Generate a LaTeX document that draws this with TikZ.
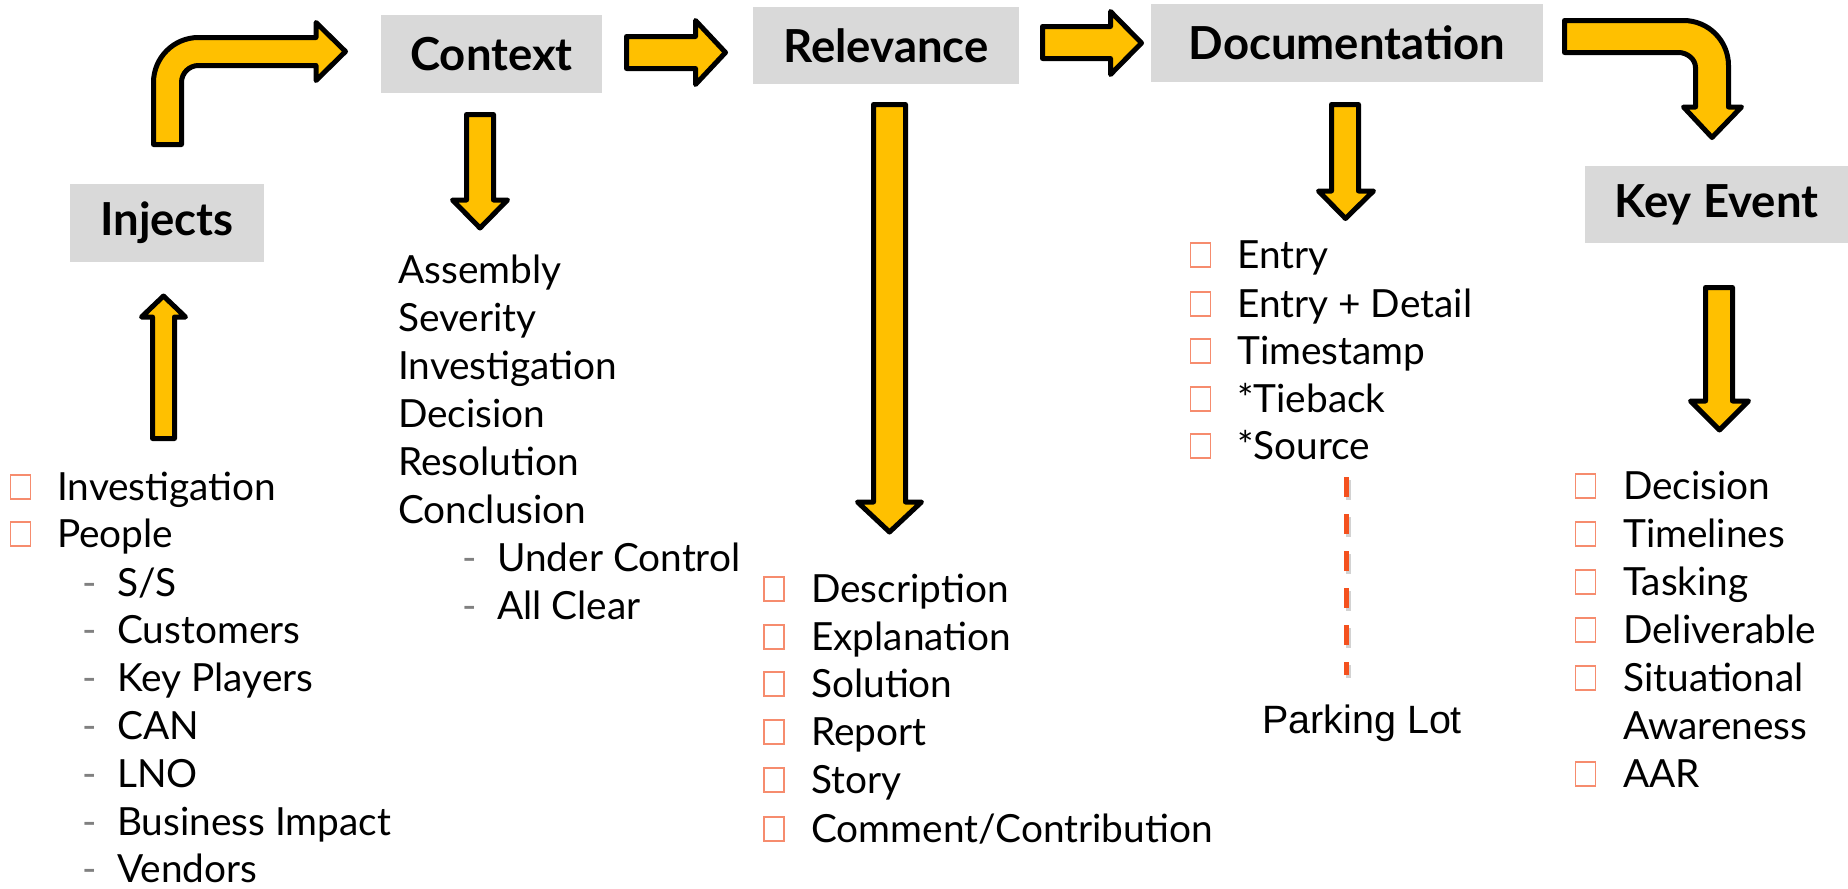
\documentclass[tikz,border=0pt]{standalone}
\usepackage{fontspec}
\setmainfont{Lato}
\newfontfamily\arialfont{Liberation Sans}
\definecolor{boxgray}{HTML}{D9D9D9}
\definecolor{arrowgold}{HTML}{FFC000}
\definecolor{bulletsalmon}{RGB}{246,140,110}
\definecolor{dashred}{RGB}{244,81,30}
\definecolor{subdash}{RGB}{128,128,128}
\newcommand\bodyfont{\fontsize{38.8}{46}\selectfont}
\newcommand\titlefont{\fontsize{45.5}{52}\selectfont\bfseries}
\tikzset{
  titlebox/.style={fill=boxgray, inner sep=0, font=\titlefont},
  blockarrow/.style={fill=arrowgold, draw=black, line width=5pt, line join=round},
  itm/.style={anchor=base west, inner sep=0, font=\bodyfont},
  subdashnode/.style={anchor=base west, inner sep=0, font=\bodyfont, text=subdash},
  sq/.style={draw=bulletsalmon, line width=1.5pt, minimum width=20pt, minimum height=24pt, inner sep=0},
}
\begin{document}
\begin{tikzpicture}[x=1pt,y=-1pt]
\useasboundingbox (0,0) rectangle (1848,889);
% title boxes
\node[titlebox, minimum width=194pt, minimum height=78pt] (injects) at (167,223) {Injects};
\node[titlebox, minimum width=221pt, minimum height=78pt] (context) at (491.5,54) {Context};
\node[titlebox, minimum width=266pt, minimum height=77pt] (relevance) at (886,45.5) {Relevance};
\node[titlebox, minimum width=392pt, minimum height=78pt] (documentation) at (1347,43) {Documentation};
\node[titlebox, minimum width=263pt, minimum height=77pt] (keyevent) at (1716.5,204.5) {Key Event};

% block arrows
% Injects up
\draw[blockarrow] (152.5,438.5) -- (152.5,317) -- (141.5,317) -- (163.5,296) -- (185.5,317) -- (174.5,317) -- (174.5,438.5) -- cycle;
% bent arrow Injects -> Context
\draw[blockarrow] (153.5,144.5) -- (153.5,82.5) .. controls (153.5,57.7) and (173.7,37.5) .. (198.5,37.5)
  -- (316,37.5) -- (316,22.5) -- (345.5,51.5) -- (316,80.5) -- (316,65.5) -- (198.5,65.5)
  .. controls (189.1,65.5) and (181.5,73.1) .. (181.5,82.5) -- (181.5,144.5) -- cycle;
% Context down
\draw[blockarrow] (466.5,114.5) -- (493.5,114.5) -- (493.5,200) -- (507.5,200) -- (480,228) -- (452.5,200) -- (466.5,200) -- cycle;
% Context -> Relevance
\draw[blockarrow] (626.5,36.5) -- (695.5,36.5) -- (695.5,20.5) -- (725.5,52.5) -- (695.5,84.5) -- (695.5,68.5) -- (626.5,68.5) -- cycle;
% Relevance down
\draw[blockarrow] (873.5,104.5) -- (905.5,104.5) -- (905.5,502) -- (921.5,502) -- (889.5,532) -- (857.5,502) -- (873.5,502) -- cycle;
% Relevance -> Documentation
\draw[blockarrow] (1042.5,26.5) -- (1110.5,26.5) -- (1110.5,11.5) -- (1141.5,43) -- (1110.5,74.5) -- (1110.5,58.5) -- (1042.5,58.5) -- cycle;
% Documentation down
\draw[blockarrow] (1331.5,104.5) -- (1358.5,104.5) -- (1358.5,191) -- (1373.5,191) -- (1345.5,218.5) -- (1318.5,191) -- (1331.5,191) -- cycle;
% bent arrow Documentation -> Key Event
\draw[blockarrow] (1564.5,20.5) -- (1683.5,20.5) .. controls (1708.4,20.5) and (1728.5,40.6) .. (1728.5,65.5)
  -- (1728.5,107) -- (1741.5,107) -- (1712,137.5) -- (1683.5,107) -- (1695.5,107) -- (1695.5,67.5)
  .. controls (1695.5,59.2) and (1687.2,52.5) .. (1678.5,52.5) -- (1564.5,52.5) -- cycle;
% Key Event down
\draw[blockarrow] (1705.5,287.5) -- (1732.5,287.5) -- (1732.5,401) -- (1748.5,401) -- (1719.5,430) -- (1690.5,401) -- (1705.5,401) -- cycle;

% Injects list
\node[sq] (ij-s1) at (20.5,487) {};
\node[itm] (ij-1) at (57,500) {Investigation};
\node[sq] (ij-s2) at (20.5,534) {};
\node[itm] (ij-2) at (57,547) {People};
\node[subdashnode] (ij-d1) at (82,596) {-};
\node[itm] (ij-sub1) at (117,596) {S/S};
\foreach \t/\y [count=\i from 2] in {Customers/643, Key Players/691, CAN/739, LNO/787, Business Impact/835, Vendors/882}{
  \node[subdashnode] (ij-d\i) at (82,\y) {-};
  \node[itm] (ij-sub\i) at (117,\y) {\t};
}

% Context list
\foreach \t/\y [count=\i] in {Assembly/283, Severity/331, Investigation/379, Decision/427, Resolution/475, Conclusion/523}{
  \node[itm] (cx-\i) at (398,\y) {\t};
}
\node[subdashnode] (cx-d1) at (462,571) {-};
\node[itm] (cx-7) at (497,571) {Under Control};
\node[subdashnode] (cx-d2) at (462,619) {-};
\node[itm] (cx-8) at (497,619) {All Clear};

% Relevance list
\foreach \t/\y [count=\i] in {Description/602, Explanation/650, Solution/697, Report/745, Story/793}{
  \node[sq] (rl-s\i) at (774,\y-13) {};
  \node[itm] (rl-\i) at (811,\y) {\t};
}
\node[sq] (rl-s6) at (774,829) {};
\node[itm] (rl-6) at (811,842) {Comment/Contribution};

% Documentation list
\foreach \t/\y [count=\i] in {Entry/268, Entry + Detail/317, Timestamp/364, *Tieback/412, *Source/459}{
  \node[sq] (dc-s\i) at (1200.5,\y-13) {};
  \node[itm] (dc-\i) at (1237,\y) {\t};
}
\coordinate (pl-top) at (1346,477);
\coordinate (pl-bot) at (1346,675);
\draw[gray!35, line width=5pt, dash pattern=on 20pt off 17pt] ([shift={(2,3)}]pl-top) -- ([shift={(2,3)}]pl-bot);
\draw[dashred, line width=5pt, dash pattern=on 20pt off 17pt] (pl-top) -- (pl-bot);
\node[anchor=base west, inner sep=0, font=\arialfont\fontsize{39.5}{44}\selectfont] (parking) at (1262,733) {Parking Lot};

% Key Event list
\foreach \t/\y [count=\i] in {Decision/499, Timelines/547, Tasking/595, Deliverable/643, Situational/691, AAR/787}{
  \node[sq] (ke-s\i) at (1585.5,\y-13) {};
  \node[itm] (ke-\i) at (1623,\y) {\t};
}
\node[itm] (ke-7) at (1623,739) {Awareness};
\end{tikzpicture}
\end{document}
